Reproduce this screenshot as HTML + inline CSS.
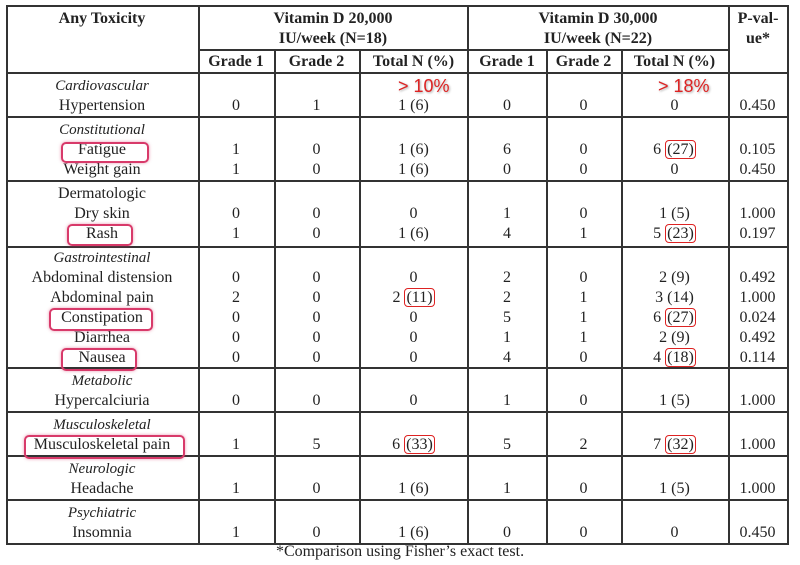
<!DOCTYPE html>
<html><head><meta charset="utf-8"><style>
body{margin:0;background:#fff;width:800px;height:565px;position:relative;overflow:hidden;font-family:"Liberation Serif",serif;color:#222;font-size:16px}
.h{position:absolute;background:#333;height:2px}
.v{position:absolute;background:#333;width:2px}
.r{position:absolute;left:0;width:800px;height:20px;line-height:20px}
.r span.c{position:absolute;text-align:center;top:0}
.a{left:6px;width:192px}.b{left:198px;width:76px}.d{left:274px;width:85px}.e{left:359px;width:109px}
.f{left:468px;width:78px}.g{left:546px;width:75px}.k{left:621px;width:107px}.p{left:728px;width:59px}
i{font-size:15px}
.hd{position:absolute;font-weight:bold;text-align:center;font-size:16px;line-height:20px}
.pk{position:absolute;border:2px solid #d83a6a;border-radius:5px;box-shadow:0 0 3px rgba(216,58,106,.5)}
.rb{border:1.5px solid #d22;border-radius:4px;padding:0 1px}
.an{position:absolute;color:#d22;font-family:"Liberation Sans",sans-serif;font-size:18px;text-shadow:1px 1px 2px #aaa}
</style></head><body>
<div class="h" style="left:6px;width:783px;top:5px"></div>
<div class="h" style="left:198px;width:530px;top:49px"></div>
<div class="h" style="left:6px;width:783px;top:72px"></div>
<div class="h" style="left:6px;width:783px;top:116px"></div>
<div class="h" style="left:6px;width:783px;top:180px"></div>
<div class="h" style="left:6px;width:783px;top:246px"></div>
<div class="h" style="left:6px;width:783px;top:367px"></div>
<div class="h" style="left:6px;width:783px;top:411px"></div>
<div class="h" style="left:6px;width:783px;top:455px"></div>
<div class="h" style="left:6px;width:783px;top:499px"></div>
<div class="h" style="left:6px;width:783px;top:543px"></div>
<div class="v" style="left:6px;top:5px;height:540px"></div>
<div class="v" style="left:198px;top:5px;height:540px"></div>
<div class="v" style="left:274px;top:49px;height:496px"></div>
<div class="v" style="left:359px;top:49px;height:496px"></div>
<div class="v" style="left:467px;top:5px;height:540px"></div>
<div class="v" style="left:546px;top:49px;height:496px"></div>
<div class="v" style="left:621px;top:49px;height:496px"></div>
<div class="v" style="left:728px;top:5px;height:540px"></div>
<div class="v" style="left:787px;top:5px;height:540px"></div>

<div class="hd" style="left:6px;width:192px;top:9px">Any Toxicity</div>
<div class="hd" style="left:198px;width:270px;top:9px">Vitamin D 20,000<br>IU/week (N=18)</div>
<div class="hd" style="left:468px;width:260px;top:9px">Vitamin D 30,000<br>IU/week (N=22)</div>
<div class="hd" style="left:728px;width:60px;top:9px">P-val-<br>ue*</div>
<div class="r" style="top:52px;font-weight:bold"><span class="c b">Grade 1</span><span class="c d">Grade 2</span><span class="c e">Total N (%)</span><span class="c f">Grade 1</span><span class="c g">Grade 2</span><span class="c k">Total N (%)</span></div>

<div class="r" style="top:76px"><span class="c a"><i>Cardiovascular</i></span></div>
<div class="r" style="top:96px"><span class="c a">Hypertension</span><span class="c b">0</span><span class="c d">1</span><span class="c e">1 (6)</span><span class="c f">0</span><span class="c g">0</span><span class="c k">0</span><span class="c p">0.450</span></div>
<div class="r" style="top:120px"><span class="c a"><i>Constitutional</i></span></div>
<div class="r" style="top:140px"><span class="c a">Fatigue</span><span class="c b">1</span><span class="c d">0</span><span class="c e">1 (6)</span><span class="c f">6</span><span class="c g">0</span><span class="c k">6 <span class="rb">(27)</span></span><span class="c p">0.105</span></div>
<div class="r" style="top:160px"><span class="c a">Weight gain</span><span class="c b">1</span><span class="c d">0</span><span class="c e">1 (6)</span><span class="c f">0</span><span class="c g">0</span><span class="c k">0</span><span class="c p">0.450</span></div>
<div class="r" style="top:184px"><span class="c a">Dermatologic</span></div>
<div class="r" style="top:204px"><span class="c a">Dry skin</span><span class="c b">0</span><span class="c d">0</span><span class="c e">0</span><span class="c f">1</span><span class="c g">0</span><span class="c k">1 (5)</span><span class="c p">1.000</span></div>
<div class="r" style="top:224px"><span class="c a">Rash</span><span class="c b">1</span><span class="c d">0</span><span class="c e">1 (6)</span><span class="c f">4</span><span class="c g">1</span><span class="c k">5 <span class="rb">(23)</span></span><span class="c p">0.197</span></div>
<div class="r" style="top:248px"><span class="c a"><i>Gastrointestinal</i></span></div>
<div class="r" style="top:268px"><span class="c a">Abdominal distension</span><span class="c b">0</span><span class="c d">0</span><span class="c e">0</span><span class="c f">2</span><span class="c g">0</span><span class="c k">2 (9)</span><span class="c p">0.492</span></div>
<div class="r" style="top:288px"><span class="c a">Abdominal pain</span><span class="c b">2</span><span class="c d">0</span><span class="c e">2 <span class="rb">(11)</span></span><span class="c f">2</span><span class="c g">1</span><span class="c k">3 (14)</span><span class="c p">1.000</span></div>
<div class="r" style="top:308px"><span class="c a">Constipation</span><span class="c b">0</span><span class="c d">0</span><span class="c e">0</span><span class="c f">5</span><span class="c g">1</span><span class="c k">6 <span class="rb">(27)</span></span><span class="c p">0.024</span></div>
<div class="r" style="top:328px"><span class="c a">Diarrhea</span><span class="c b">0</span><span class="c d">0</span><span class="c e">0</span><span class="c f">1</span><span class="c g">1</span><span class="c k">2 (9)</span><span class="c p">0.492</span></div>
<div class="r" style="top:348px"><span class="c a">Nausea</span><span class="c b">0</span><span class="c d">0</span><span class="c e">0</span><span class="c f">4</span><span class="c g">0</span><span class="c k">4 <span class="rb">(18)</span></span><span class="c p">0.114</span></div>
<div class="r" style="top:371px"><span class="c a"><i>Metabolic</i></span></div>
<div class="r" style="top:391px"><span class="c a">Hypercalciuria</span><span class="c b">0</span><span class="c d">0</span><span class="c e">0</span><span class="c f">1</span><span class="c g">0</span><span class="c k">1 (5)</span><span class="c p">1.000</span></div>
<div class="r" style="top:415px"><span class="c a"><i>Musculoskeletal</i></span></div>
<div class="r" style="top:435px"><span class="c a">Musculoskeletal pain</span><span class="c b">1</span><span class="c d">5</span><span class="c e">6 <span class="rb">(33)</span></span><span class="c f">5</span><span class="c g">2</span><span class="c k">7 <span class="rb">(32)</span></span><span class="c p">1.000</span></div>
<div class="r" style="top:459px"><span class="c a"><i>Neurologic</i></span></div>
<div class="r" style="top:479px"><span class="c a">Headache</span><span class="c b">1</span><span class="c d">0</span><span class="c e">1 (6)</span><span class="c f">1</span><span class="c g">0</span><span class="c k">1 (5)</span><span class="c p">1.000</span></div>
<div class="r" style="top:503px"><span class="c a"><i>Psychiatric</i></span></div>
<div class="r" style="top:523px"><span class="c a">Insomnia</span><span class="c b">1</span><span class="c d">0</span><span class="c e">1 (6)</span><span class="c f">0</span><span class="c g">0</span><span class="c k">0</span><span class="c p">0.450</span></div>

<div class="pk" style="left:61px;top:142px;width:84px;height:17px"></div>
<div class="pk" style="left:67px;top:224px;width:62px;height:18px"></div>
<div class="pk" style="left:49px;top:308px;width:100px;height:19px"></div>
<div class="pk" style="left:61px;top:348px;width:72px;height:19px"></div>
<div class="pk" style="left:24px;top:435px;width:157px;height:20px"></div>

<div class="an" style="left:398px;top:76px">&gt; 10%</div>
<div class="an" style="left:658px;top:76px">&gt; 18%</div>

<div style="position:absolute;left:0;width:800px;top:542px;text-align:center;font-size:16px;line-height:20px">*Comparison using Fisher’s exact test.</div>
</body></html>
